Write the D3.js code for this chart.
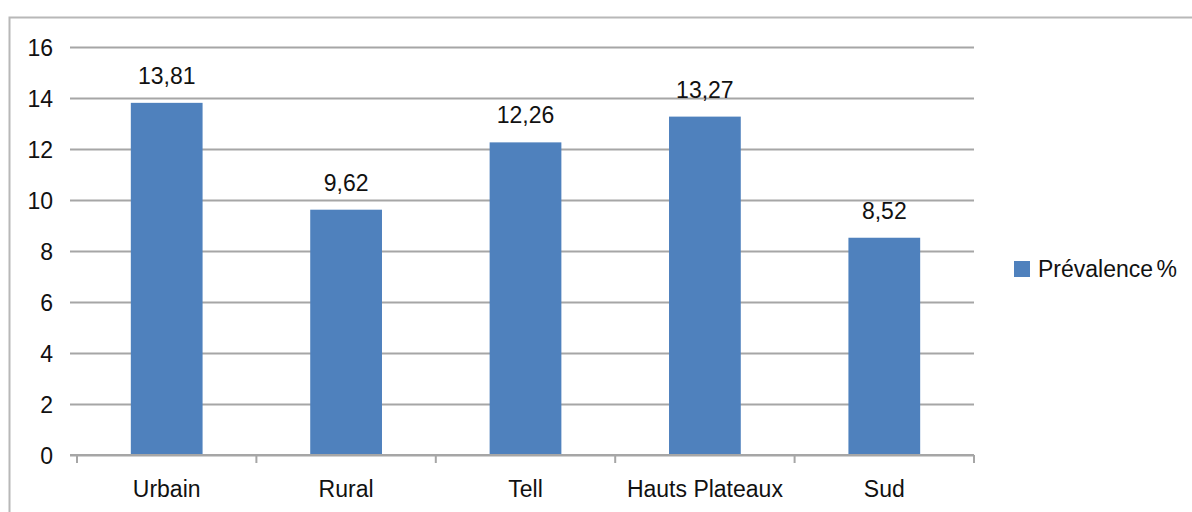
<!DOCTYPE html>
<html>
<head>
<meta charset="utf-8">
<script src="https://cdn.jsdelivr.net/npm/d3@7"></script>
<style>
  html, body { margin: 0; padding: 0; background: #fff; }
  svg { display: block; }
  text { font-family: "Liberation Sans", Arial, sans-serif; fill: #111; }
</style>
</head>
<body>
<svg id="chart" width="1192" height="512"></svg>
<script>
// Prévalence (%) par strate
const categories = ["Urbain", "Rural", "Tell", "Hauts Plateaux", "Sud"];
const prevalence = [13.81, 9.62, 12.26, 13.27, 8.52];
const yTicks = [0, 2, 4, 6, 8, 10, 12, 14, 16];
const seriesName = "Prévalence %";

const W = 1192, H = 512;
const plot = { left: 77, right: 974, top: 47, bottom: 455 };
const barColor = "#4f81bd";
const gridColor = "#a6a6a6";
const fontSize = 23;

const svg = d3.select("#chart");

// outer chart frame (top and left edges visible)
svg.append("path")
  .attr("d", `M9.5,${H} V17.5 H${W}`)
  .attr("fill", "none")
  .attr("stroke", "#b8b8b8")
  .attr("stroke-width", 2);

const x = d3.scaleBand()
  .domain(categories)
  .range([plot.left, plot.right])
  .padding(0);

const y = d3.scaleLinear()
  .domain([0, 16])
  .range([plot.bottom, plot.top]);

// horizontal gridlines + y labels
const yAxis = d3.axisLeft(y)
  .tickValues(yTicks)
  .tickSize(plot.right - (plot.left - 7))
  .tickFormat(d3.format("d"));

const gy = svg.append("g")
  .attr("transform", `translate(${plot.right},0)`)
  .call(yAxis);
gy.select(".domain").remove();
gy.selectAll(".tick line")
  .attr("stroke", gridColor)
  .attr("stroke-width", 2);
gy.selectAll(".tick text")
  .attr("x", -(plot.right - 53))
  .attr("dy", "0.36em")
  .style("font-size", fontSize + "px")
  .style("font-family", "Liberation Sans, Arial, sans-serif")
  .attr("fill", "#111");

// bars
const barW = x.bandwidth() * 0.4;
svg.append("g")
  .selectAll("rect")
  .data(categories)
  .join("rect")
  .attr("x", (d) => x(d) + (x.bandwidth() - barW) / 2)
  .attr("y", (d, i) => y(prevalence[i]))
  .attr("width", barW)
  .attr("height", (d, i) => y(0) - y(prevalence[i]))
  .attr("fill", barColor);

// value labels
const fmt = (v) => v.toFixed(2).replace(".", ",");
svg.append("g")
  .selectAll("text")
  .data(categories)
  .join("text")
  .attr("x", (d) => x(d) + x.bandwidth() / 2)
  .attr("y", (d, i) => y(prevalence[i]) - 19)
  .attr("text-anchor", "middle")
  .style("font-size", fontSize + "px")
  .text((d, i) => fmt(prevalence[i]));

// category axis with band boundary ticks
const gx = svg.append("g")
  .attr("transform", `translate(0,${plot.bottom})`);
gx.append("line")
  .attr("x1", plot.left - 7).attr("x2", plot.right)
  .attr("stroke", gridColor).attr("stroke-width", 2);
const bounds = categories.map((d) => x(d)).concat([x(categories[categories.length - 1]) + x.bandwidth()]);
gx.selectAll("line.tk")
  .data(bounds)
  .join("line")
  .attr("class", "tk")
  .attr("x1", (d) => d).attr("x2", (d) => d)
  .attr("y1", 0).attr("y2", 8)
  .attr("stroke", gridColor).attr("stroke-width", 2);
gx.selectAll("text")
  .data(categories)
  .join("text")
  .attr("x", (d) => x(d) + x.bandwidth() / 2)
  .attr("y", 42)
  .attr("text-anchor", "middle")
  .style("font-size", fontSize + "px")
  .text((d) => d);

// legend
const lg = svg.append("g").attr("transform", "translate(1014,261)");
lg.append("rect").attr("width", 16).attr("height", 16).attr("fill", barColor);
lg.append("text")
  .attr("x", 24).attr("y", 16)
  .style("font-size", fontSize + "px")
  .style("word-spacing", "-3px")
  .text(seriesName);
</script>
</body>
</html>
